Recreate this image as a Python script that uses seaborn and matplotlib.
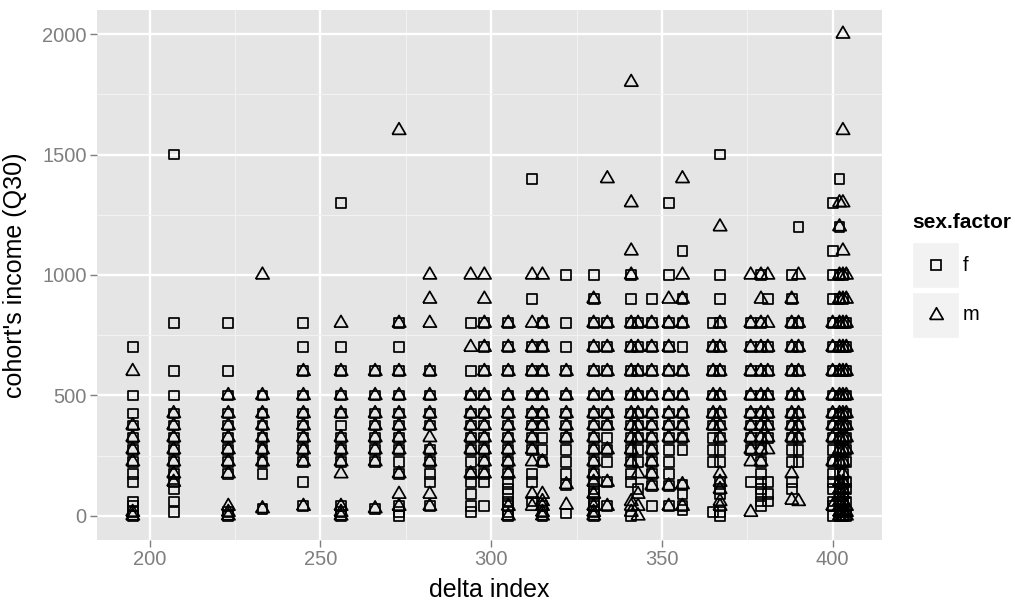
import pandas as pd
import seaborn as sns
import matplotlib.pyplot as plt
from matplotlib.patches import Rectangle
from matplotlib.lines import Line2D

# cohort's income (Q30) per delta index
income_f = {
    195: [700, 500, 425, 375, 325, 275, 225, 175, 140, 60, 40, 15, 0],
    207: [1500, 800, 600, 500, 425, 375, 325, 275, 225, 175, 140, 110, 60, 15],
    223: [800, 600, 500, 425, 375, 325, 275, 225, 175, 15, 0],
    233: [500, 425, 375, 325, 275, 225, 175, 30],
    245: [800, 700, 600, 500, 425, 375, 325, 275, 225, 140, 40],
    256: [1300, 700, 600, 500, 425, 375, 325, 275, 225, 40, 15, 0],
    266: [600, 500, 425, 375, 325, 275, 225, 30],
    273: [800, 700, 600, 500, 425, 375, 325, 275, 225, 175, 40, 15, 0],
    282: [600, 500, 425, 375, 275, 225, 175, 140, 40],
    294: [800, 600, 500, 425, 375, 325, 275, 225, 175, 140, 90, 40, 15],
    298: [800, 700, 600, 500, 425, 375, 325, 275, 225, 175, 140, 40],
    305: [800, 700, 600, 500, 425, 375, 325, 275, 225, 175, 140, 110, 90, 60, 40, 15, 0],
    312: [1400, 900, 700, 600, 500, 425, 375, 325, 275, 175, 140, 60],
    315: [800, 700, 600, 500, 425, 375, 325, 275, 225, 40, 15, 0],
    322: [1000, 800, 700, 600, 500, 425, 375, 325, 275, 225, 175, 130, 10],
    330: [1000, 900, 800, 700, 600, 500, 425, 375, 325, 275, 225, 175, 140, 110, 90, 60, 40, 15, 0],
    334: [800, 700, 600, 500, 425, 375, 325, 275, 225, 140, 40],
    341: [1000, 900, 800, 700, 600, 500, 425, 375, 325, 275, 225, 175, 140, 0],
    343: [800, 700, 600, 500, 425, 375, 325, 275, 225, 110],
    347: [900, 800, 700, 600, 500, 425, 375, 325, 275, 225, 175, 125, 40],
    352: [1300, 1000, 800, 700, 600, 500, 425, 375, 325, 275, 225, 175, 125, 40],
    356: [1100, 900, 800, 700, 600, 500, 425, 375, 325, 275, 130, 90, 40, 25],
    365: [800, 700, 600, 500, 425, 375, 325, 275, 225, 15],
    367: [1500, 1000, 900, 800, 700, 600, 500, 425, 375, 325, 275, 225, 140, 110, 90, 15, 0],
    376: [800, 700, 600, 500, 425, 375, 325, 275, 140],
    379: [1000, 800, 700, 600, 500, 425, 375, 325, 275, 225, 175, 140, 110, 90, 60, 40],
    381: [900, 700, 600, 500, 425, 375, 325, 140, 90, 60],
    388: [1000, 900, 800, 700, 600, 500, 425, 375, 325, 275, 225, 140, 110],
    390: [1200, 800, 700, 600, 500, 425, 375, 325, 275, 225],
    400: [1300, 1100, 1000, 900, 800, 700, 600, 500, 425, 375, 325, 275, 225, 175, 140, 110, 60, 40, 0],
    402: [1400, 1200, 1000, 900, 800, 700, 600, 500, 425, 375, 325, 275, 225, 175, 140, 110, 90, 60, 40, 15, 0],
    403: [1000, 900, 800, 700, 600, 500, 425, 375, 325, 275, 225, 175, 140, 110, 90, 60, 40, 15, 0],
    404: [800, 700, 600, 500, 425, 375, 325, 275, 225, 140, 110, 60, 15, 0],
}

income_m = {
    195: [600, 375, 325, 275, 225, 15, 0],
    207: [425, 375, 325, 275, 225, 175, 140],
    223: [500, 425, 375, 325, 275, 225, 175, 40, 15, 0],
    233: [1000, 500, 425, 375, 325, 275, 225, 30],
    245: [600, 500, 425, 375, 325, 275, 225, 40],
    256: [800, 600, 500, 425, 325, 275, 225, 175, 40, 15, 0],
    266: [600, 500, 425, 375, 325, 275, 225, 30],
    273: [1600, 800, 600, 500, 425, 375, 325, 275, 175, 90, 40],
    282: [1000, 900, 800, 600, 500, 425, 375, 325, 275, 225, 90, 40],
    294: [1000, 700, 500, 425, 375, 325, 275, 175],
    298: [1000, 900, 800, 700, 600, 500, 425, 375, 325, 275, 225, 175],
    305: [800, 700, 600, 500, 425, 375, 325, 275, 225, 175, 40, 0],
    312: [1000, 800, 700, 600, 500, 425, 375, 325, 275, 225, 90, 40],
    315: [1000, 800, 700, 600, 500, 425, 375, 225, 90, 60, 40, 15, 0],
    322: [600, 500, 425, 375, 325, 130, 45],
    330: [900, 800, 700, 600, 500, 425, 375, 325, 275, 225, 175, 140, 90, 40, 15, 0],
    334: [1400, 800, 700, 600, 500, 425, 375, 275, 140, 40],
    341: [1800, 1300, 1100, 1000, 800, 700, 600, 500, 425, 375, 325, 275, 225, 60, 40, 15],
    343: [800, 700, 600, 500, 425, 375, 325, 175, 90, 40, 0],
    347: [800, 700, 600, 500, 425, 375, 325, 275, 225, 175, 125],
    352: [900, 800, 700, 600, 500, 425, 375, 325, 125, 40],
    356: [1400, 1000, 900, 800, 600, 500, 425, 375, 325, 130, 40],
    365: [700, 600, 500, 425, 375],
    367: [1200, 800, 700, 600, 500, 425, 375, 325, 175, 140, 110, 60, 40],
    376: [1000, 800, 700, 600, 500, 425, 375, 325, 275, 225, 15],
    379: [1000, 900, 800, 700, 600, 500, 425, 375, 325, 275, 225],
    381: [1000, 800, 700, 600, 500, 425, 375, 325, 275],
    388: [900, 800, 700, 600, 500, 425, 375, 325, 175, 65],
    390: [1000, 800, 700, 600, 500, 425, 375, 325, 60],
    400: [800, 700, 600, 500, 425, 375, 325, 225, 40],
    402: [1300, 1200, 1000, 900, 800, 700, 600, 500, 425, 375, 325, 275, 225, 140, 110, 90, 60, 40, 15, 0],
    403: [2000, 1600, 1300, 1100, 1000, 900, 800, 700, 600, 500, 425, 375, 325, 275, 225, 175, 140, 110, 90, 60, 40, 15, 0],
    404: [1000, 900, 800, 700, 600, 500, 425, 375, 325, 275, 40, 15, 0],
}

sexes = ['f', 'm']
x_ticks = [200, 250, 300, 350, 400]
y_ticks = [0, 500, 1000, 1500, 2000]

rows = []
for sex, table in zip(sexes, [income_f, income_m]):
    for d, vals in table.items():
        for v in vals:
            rows.append((d, v, sex))
df = pd.DataFrame(rows, columns=['delta index', 'income', 'sex.factor'])

# ggplot2-ish look
sns.set_style({
    'axes.facecolor': '#E5E5E5',
    'axes.edgecolor': '#E5E5E5',
    'grid.color': 'white',
    'axes.grid': True,
})
plt.rcParams['font.family'] = ['Liberation Sans', 'DejaVu Sans']

fig = plt.figure(figsize=(10.15, 6.01), dpi=100)
W, H = 1015, 601
ax = fig.add_axes([97 / W, 1 - 540 / H, 785 / W, 530 / H])

# open triangle, equilateral
tri = [(-0.5, -0.289), (0.5, -0.289), (0, 0.577), (-0.5, -0.289)]
shapes = {'f': ('s', 50), 'm': (tri, 125)}

for sex in sexes:
    mk, sz = shapes[sex]
    sns.scatterplot(data=df[df['sex.factor'] == sex], x='delta index', y='income',
                    marker=mk, s=sz, color='black', facecolor='none',
                    edgecolor='black', linewidth=1.25, ax=ax, zorder=3)

# limits with 5% expansion like ggplot
xmin, xmax = df['delta index'].min(), df['delta index'].max()
ymin, ymax = df['income'].min(), df['income'].max()
ax.set_xlim(xmin - 0.05 * (xmax - xmin), xmax + 0.05 * (xmax - xmin))
ax.set_ylim(ymin - 0.05 * (ymax - ymin), ymax + 0.05 * (ymax - ymin))

ax.set_xticks(x_ticks)
ax.set_yticks(y_ticks)
ax.set_xticks([225, 275, 325, 375], minor=True)
ax.set_yticks([250, 750, 1250, 1750], minor=True)
ax.grid(which='major', color='white', linewidth=1.7)
ax.grid(which='minor', color='#F2F2F2', linewidth=0.8)
ax.set_axisbelow(True)
for sp in ax.spines.values():
    sp.set_visible(False)
ax.tick_params(which='major', length=5, width=1, color='#7F7F7F',
               labelcolor='#7F7F7F', labelsize=14.5, pad=2.5)
ax.tick_params(which='minor', length=0)

ax.set_xlabel('')
ax.set_ylabel('')
fig.text(489 / W, 1 - 590 / H, 'delta index', fontsize=18, ha='center', va='center')
fig.text(15 / W, 1 - 275 / H, "cohort's income (Q30)", fontsize=18, rotation=90,
         ha='center', va='center')

# legend drawn by hand, ggplot style
fig.text(912 / W, 1 - 222 / H, 'sex.factor', fontsize=15, fontweight='bold',
         ha='left', va='center')
for i, sex in enumerate(sexes):
    top = 242 + i * 50
    fig.add_artist(Rectangle((912 / W, 1 - (top + 46) / H), 47 / W, 46 / H,
                             transform=fig.transFigure, facecolor='#F2F2F2',
                             edgecolor='white', linewidth=1))
    mk, sz = shapes[sex]
    fig.add_artist(Line2D([935.5 / W], [1 - (top + 23) / H], transform=fig.transFigure,
                          marker=mk, markersize=sz ** 0.5, markerfacecolor='none',
                          markeredgecolor='black', markeredgewidth=1.25, linestyle='none'))
    fig.text(963 / W, 1 - (top + 23) / H, sex, fontsize=14.5, ha='left', va='center')

fig.savefig('out.png', dpi=100)
